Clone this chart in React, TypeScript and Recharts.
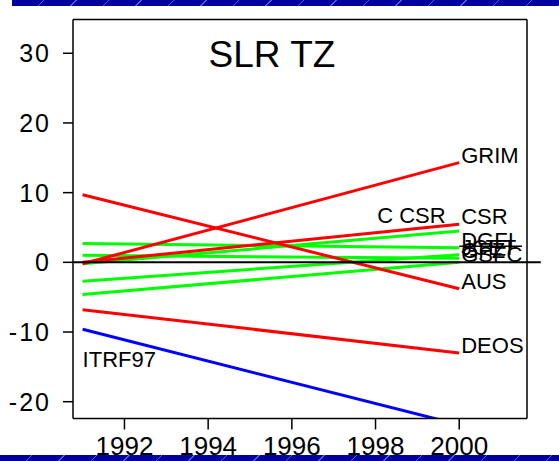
import React from 'react'
import {
  LineChart,
  Line,
  XAxis,
  YAxis,
  ReferenceLine,
  ReferenceDot,
  LabelList,
} from 'recharts'

// all series are straight trends sampled at the first and last epoch
const years = [1991, 2000]

const grim = [-0.2, 14.3]
const aus = [9.7, -3.8]
const csr = [0.0, 5.45]
const deos = [-6.8, -13.0]

const dgfi = [2.7, 2.1]
const gfz = [1.0, 0.6]
const gsfcTrend = [-0.2, 4.5]
const jcet = [-2.7, 1.1]
const gsfc = [-4.6, 0.0]

const itrf97 = [-9.6, -23.3]

const xTicks = [1992, 1994, 1996, 1998, 2000]
const yTicks = [-20, -10, 0, 10, 20, 30]

const FONT = '"Liberation Sans", Arial, Helvetica, sans-serif'

const data = years.map((year, i) => ({
  year,
  grim: grim[i],
  aus: aus[i],
  csr: csr[i],
  deos: deos[i],
  dgfi: dgfi[i],
  gfz: gfz[i],
  gsfcTrend: gsfcTrend[i],
  jcet: jcet[i],
  gsfc: gsfc[i],
  itrf97: itrf97[i],
}))

// label at the last point of a line, baseline on the end point
const endLabel = (text: string) => (props: any) => {
  const { x, y, index } = props
  if (index !== years.length - 1) return null
  return (
    <text x={Number(x) + 2} y={Number(y)} fontSize={22} fontFamily={FONT} fill="#000">
      {text}
    </text>
  )
}

const freeLabel = (text: string) => (props: any) => {
  const vb = props.viewBox || {}
  return (
    <text x={vb.x} y={vb.y} fontSize={22} fontFamily={FONT} fill="#000">
      {text}
    </text>
  )
}

const stripe = 'repeating-linear-gradient(135deg, #00009c 0px, #00009c 22px, #5060d8 22px, #5060d8 23px)'

const greenKeys: [string, string][] = [
  ['dgfi', 'DGFI'],
  ['gfz', 'GFZ'],
  ['gsfcTrend', ''],
  ['jcet', 'JCET'],
  ['gsfc', 'GSFC'],
]

const redKeys: [string, string][] = [
  ['grim', 'GRIM'],
  ['aus', 'AUS'],
  ['csr', 'CSR'],
  ['deos', 'DEOS'],
]

export default function App() {
  return (
    <div style={{ position: 'absolute', left: 0, top: 0, width: 559, height: 461, background: '#fff' }}>
      <LineChart width={559} height={461} data={data} margin={{ top: 0, right: 0, bottom: 0, left: 0 }}>
        <XAxis
          xAxisId="b"
          dataKey="year"
          type="number"
          domain={[1990.77, 2001.62]}
          allowDataOverflow
          ticks={xTicks}
          height={42.5}
          tickSize={11}
          tickMargin={7}
          stroke="#000"
          strokeWidth={1.5}
          tick={{ fill: '#000', fontSize: 26, fontFamily: FONT }}
        />
        <XAxis
          xAxisId="t"
          dataKey="year"
          type="number"
          orientation="top"
          domain={[1990.77, 2001.62]}
          allowDataOverflow
          ticks={xTicks}
          height={19.6}
          tickSize={13}
          tick={false}
          stroke="#000"
          strokeWidth={1.5}
        />
        <YAxis
          yAxisId="l"
          type="number"
          domain={[-22.41, 34.83]}
          allowDataOverflow
          ticks={yTicks}
          width={73}
          tickSize={10}
          tickMargin={12}
          stroke="#000"
          strokeWidth={1.5}
          tick={{ fill: '#000', fontSize: 25, fontFamily: FONT, letterSpacing: 2 }}
        />
        <YAxis
          yAxisId="r"
          type="number"
          orientation="right"
          domain={[-22.41, 34.83]}
          allowDataOverflow
          ticks={yTicks}
          width={32}
          tickSize={13}
          tick={false}
          stroke="#000"
          strokeWidth={1.5}
        />

        {greenKeys.map(([key, text]) => (
          <Line
            key={key}
            xAxisId="b"
            yAxisId="l"
            dataKey={key}
            stroke="#00ff00"
            strokeWidth={3}
            dot={false}
            isAnimationActive={false}
          >
            {text && <LabelList dataKey={key} content={endLabel(text)} />}
          </Line>
        ))}

        {redKeys.map(([key, text]) => (
          <Line
            key={key}
            xAxisId="b"
            yAxisId="l"
            dataKey={key}
            stroke="#ff0000"
            strokeWidth={3}
            dot={false}
            isAnimationActive={false}
          >
            <LabelList dataKey={key} content={endLabel(text)} />
          </Line>
        ))}

        <Line
          xAxisId="b"
          yAxisId="l"
          dataKey="itrf97"
          stroke="#0000ff"
          strokeWidth={3}
          dot={false}
          isAnimationActive={false}
        />

        <ReferenceLine
          xAxisId="b"
          yAxisId="l"
          segment={[
            { x: 1990.77, y: 0 },
            { x: 2001.95, y: 0 },
          ]}
          stroke="#000"
          strokeWidth={2}
          ifOverflow="visible"
        />
        <ReferenceLine
          xAxisId="b"
          yAxisId="l"
          segment={[
            { x: 2000, y: 2.3 },
            { x: 2001.5, y: 2.3 },
          ]}
          stroke="#000"
          strokeWidth={1.5}
          ifOverflow="visible"
        />

        <ReferenceDot
          xAxisId="b"
          yAxisId="l"
          x={1998.04}
          y={5.67}
          r={0}
          ifOverflow="visible"
          label={freeLabel('C CSR')}
        />
        <ReferenceDot
          xAxisId="b"
          yAxisId="l"
          x={1991}
          y={-15.0}
          r={0}
          ifOverflow="visible"
          label={freeLabel('ITRF97')}
        />

        <text x={272} y={67} textAnchor="middle" fontSize={37} fontFamily={FONT} fill="#000">
          SLR TZ
        </text>
      </LineChart>
      <div style={{ position: 'absolute', left: 12, top: 0, width: 547, height: 6, background: stripe }} />
      <div style={{ position: 'absolute', left: 0, top: 455, width: 559, height: 6, background: stripe }} />
    </div>
  )
}
